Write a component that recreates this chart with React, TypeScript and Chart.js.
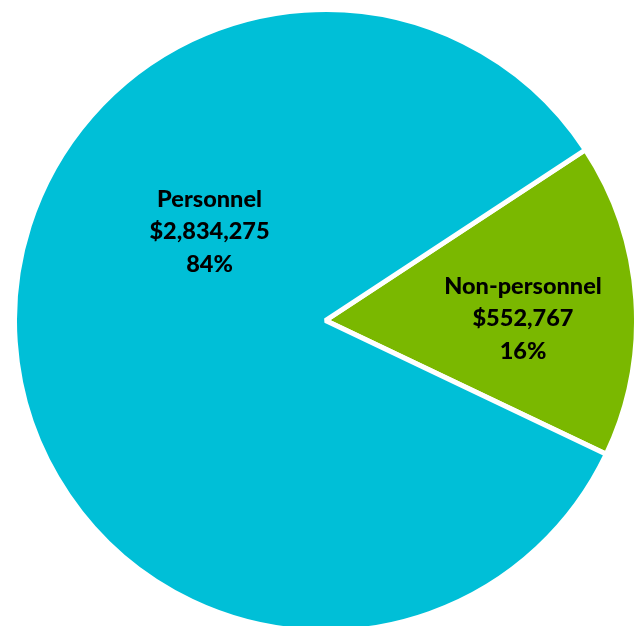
import React, { useEffect, useRef } from 'react';
import { Chart, registerables, Plugin } from 'chart.js';

Chart.register(...registerables);

const categories = ['Non-personnel', 'Personnel'];
const amounts = [552767, 2834275];
const percentLabels = ['16%', '84%'];
const sliceColors = ['#7ab800', '#00bfd7'];

// where each label sits, relative to the pie centre (screen angle in degrees, fraction of radius)
const labelPlacement = [
  { angle: -0.6, frac: 0.635 },
  { angle: 217.5, frac: 0.47 },
];

const sliceLabels: Plugin<'pie'> = {
  id: 'sliceLabels',
  afterDatasetsDraw(chart) {
    const { ctx } = chart;
    const meta = chart.getDatasetMeta(0);
    ctx.save();
    ctx.fillStyle = '#000';
    ctx.font = '900 23.5px Lato, "Open Sans", sans-serif';
    ctx.textAlign = 'center';
    ctx.textBaseline = 'middle';
    meta.data.forEach((el: any, i) => {
      const { x, y, outerRadius } = el.getProps(['x', 'y', 'outerRadius'], true);
      const p = labelPlacement[i];
      const a = (p.angle * Math.PI) / 180;
      const cx = x + Math.cos(a) * outerRadius * p.frac;
      const cy = y + Math.sin(a) * outerRadius * p.frac;
      const lines = [categories[i], '$' + amounts[i].toLocaleString('en-US'), percentLabels[i]];
      lines.forEach((t, j) => ctx.fillText(t, cx, cy + (j - 1) * 32.5));
    });
    ctx.restore();
  },
};

export default function App() {
  const canvasRef = useRef<HTMLCanvasElement>(null);

  useEffect(() => {
    if (!canvasRef.current) return;
    const chart = new Chart(canvasRef.current, {
      type: 'pie',
      data: {
        labels: categories,
        datasets: [
          {
            data: amounts,
            backgroundColor: sliceColors,
            borderColor: '#ffffff',
            borderWidth: 5,
          },
        ],
      },
      options: {
        animation: false,
        responsive: true,
        maintainAspectRatio: false,
        rotation: 56.7,
        layout: { padding: 0 },
        plugins: {
          legend: { display: false },
          tooltip: { enabled: false },
        },
      },
      plugins: [sliceLabels],
    });
    return () => chart.destroy();
  }, []);

  return (
    <div style={{ position: 'absolute', left: 12, top: 7, width: 627, height: 627 }}>
      <canvas ref={canvasRef}></canvas>
    </div>
  );
}
